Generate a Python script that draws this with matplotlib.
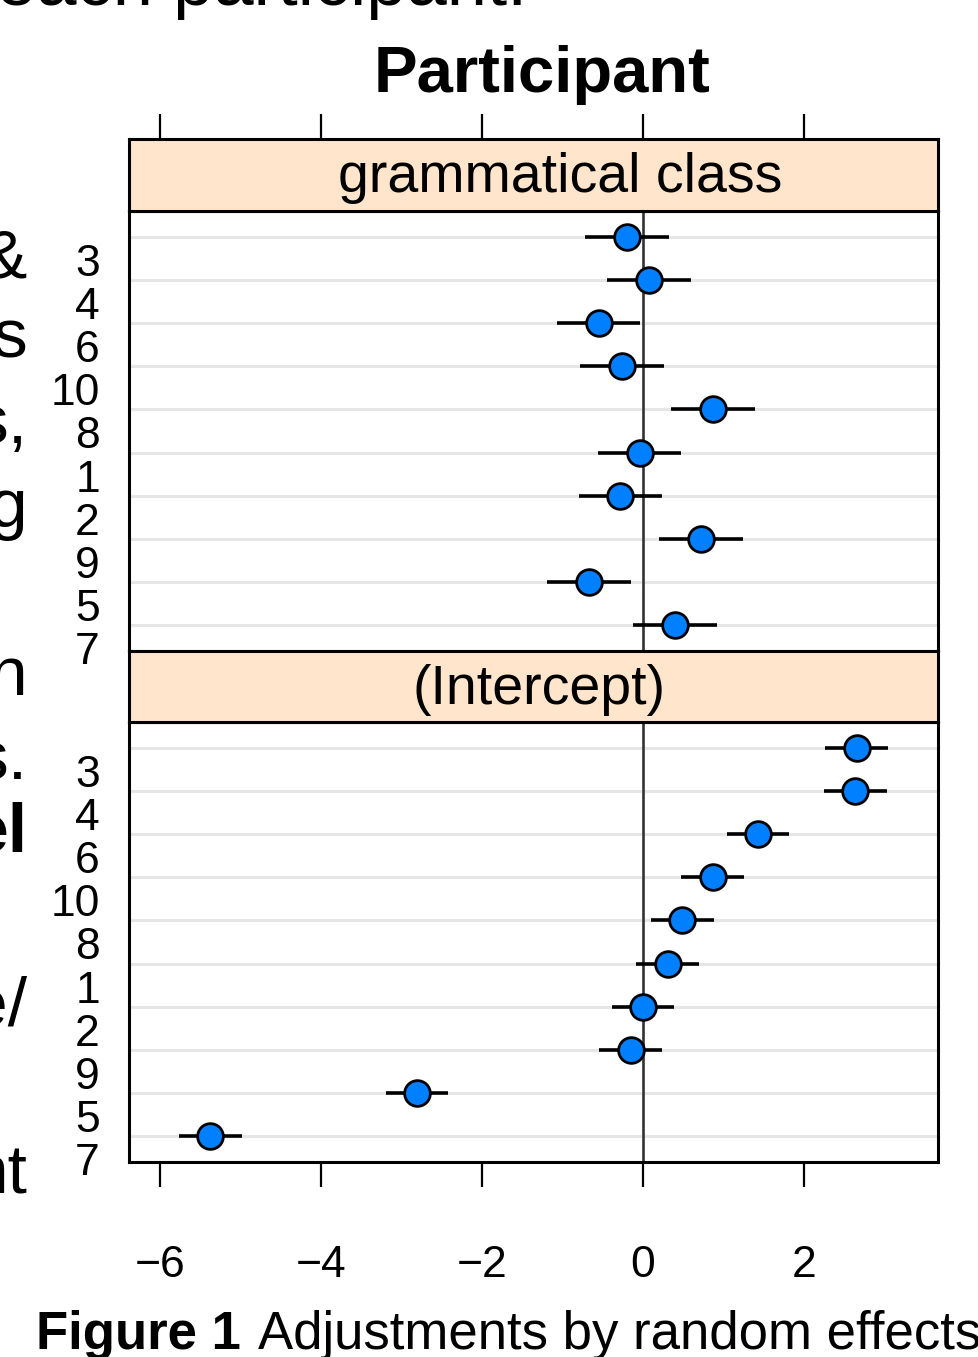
import numpy as np
import matplotlib
matplotlib.use("Agg")
import matplotlib.pyplot as plt
from matplotlib.transforms import ScaledTranslation

plt.rcParams['font.family'] = ['Liberation Sans', 'DejaVu Sans']

# data (rows listed top to bottom)
participants = ['3', '4', '6', '10', '8', '1', '2', '9', '5', '7']
gram_est = [-0.20, 0.08, -0.55, -0.26, 0.87, -0.04, -0.28, 0.72, -0.67, 0.40]
gram_hw = [0.52, 0.52, 0.52, 0.52, 0.52, 0.52, 0.52, 0.52, 0.52, 0.52]
int_est = [2.66, 2.64, 1.43, 0.87, 0.49, 0.31, 0.00, -0.15, -2.81, -5.38]
int_hw = [0.39, 0.39, 0.39, 0.39, 0.39, 0.39, 0.39, 0.39, 0.39, 0.39]
strip_titles = ['grammatical class', '(Intercept)']
xticks = [-6, -4, -2, 0, 2]

W, H = 979, 1357
fig = plt.figure(figsize=(W / 100, H / 100), dpi=100)


def px_axes(l, t, r, b):
    return fig.add_axes([l / W, 1 - b / H, (r - l) / W, (b - t) / H])


xlim = (-6.39, 3.67)
ypos = np.arange(len(participants), 0, -1)
strip_col = '#ffe5cc'
dot_col = '#0080ff'

panels = [
    (gram_est, gram_hw, strip_titles[0], 139, 211, 651, 0.533),
    (int_est, int_hw, strip_titles[1], 651, 722, 1162, 0.507),
]

for i, (est, hw, title, st, pt, pb, tx) in enumerate(panels):
    ax = px_axes(129, pt, 938, pb)
    ax.set_xlim(xlim)
    ax.set_ylim(0.4, 10.6)
    for y in ypos:
        ax.axhline(y, color='#e6e6e6', lw=2.2, zorder=0)
    ax.axvline(0, color='#333333', lw=1.9, zorder=1)
    ax.errorbar(est, ypos, xerr=hw, fmt='o', ms=18.5, mfc=dot_col, mec='black',
                mew=2.0, ecolor='black', elinewidth=2.6, capsize=0, zorder=3)
    ax.set_yticks(ypos)
    ax.set_yticklabels(participants, fontsize=32)
    ax.tick_params(axis='y', length=0, pad=21)
    off = ScaledTranslation(0, -23 / 100, fig.dpi_scale_trans)
    for lab in ax.get_yticklabels():
        lab.set_transform(lab.get_transform() + off)
    for s in ax.spines.values():
        s.set_linewidth(2.2)
    if i == 1:
        ax.set_xticks(xticks)
        ax.set_xticklabels(['\u2212' + str(-v) if v < 0 else str(v) for v in xticks],
                           fontsize=32)
        ax.tick_params(axis='x', length=18, width=1.6, pad=42)
    else:
        ax.set_xticks([])

    sax = px_axes(129, st, 938, pt)
    sax.set_facecolor(strip_col)
    sax.set_xlim(xlim)
    sax.set_yticks([])
    for s in sax.spines.values():
        s.set_linewidth(2.2)
    if i == 0:
        sax.set_xticks(xticks)
        sax.tick_params(axis='x', top=True, bottom=False, labeltop=False,
                        labelbottom=False, length=18, width=1.6)
    else:
        sax.set_xticks([])
    sax.text(tx, 0.26, title, transform=sax.transAxes, ha='center',
             va='baseline', fontsize=40)

fig.text(542 / W, 1 - 92 / H, 'Participant', ha='center', va='baseline',
         fontsize=47, fontweight='bold')

# cut-off neighbouring text
fig.text(-4 / W, 1 - 5 / H, 'each participant.', ha='left', va='baseline',
         fontsize=52)
frags = [('&', 278, 'normal'), ('s', 357, 'normal'), ('s,', 443, 'normal'),
         ('g', 527, 'normal'), ('n', 695, 'normal'), ('s.', 780, 'normal'),
         ('el', 852, 'bold'), ('e/', 1026, 'normal'), ('nt', 1193, 'normal')]
for t, yb, wt in frags:
    fig.text(27 / W, 1 - yb / H, t, ha='right', va='baseline', fontsize=50,
             fontweight=wt)

cap = fig.text(36 / W, 1 - 1349 / H, 'Figure 1', ha='left', va='baseline',
               fontsize=38, fontweight='bold')
r = fig.canvas.get_renderer()
bb = cap.get_window_extent(renderer=r)
fig.text(bb.x1 / W + 0.018, 1 - 1349 / H, 'Adjustments by random effects',
         ha='left', va='baseline', fontsize=38)

fig.savefig('out.png', dpi=100)
